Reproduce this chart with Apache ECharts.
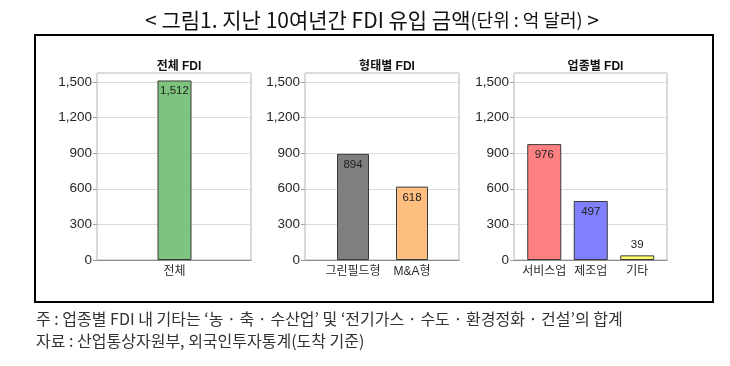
<!DOCTYPE html>
<html>
<head>
<meta charset="utf-8">
<script src="https://cdn.jsdelivr.net/npm/echarts@6/dist/echarts.min.js"></script>
<style>html,body{margin:0;padding:0;background:#fff}#c{width:730px;height:366px}</style>
</head>
<body>
<div id="c"></div>
<script>
// ---- data ----
const panelTitles = ['전체 FDI', '형태별 FDI', '업종별 FDI'];
const cats1 = ['전체'];
const vals1 = [1512];
const cats2 = ['그린필드형', 'M&A형'];
const vals2 = [894, 618];
const cats3 = ['서비스업', '제조업', '기타'];
const vals3 = [976, 497, 39];
const yMin = 0, yMax = 1575, yStep = 300;
const mainTitle = '< 그림1. 지난 10여년간 FDI 유입 금액';
const unitText = '(단위 : 억 달러)';
const note1 = '주 : 업종별 FDI 내 기타는 ‘농 · 축 · 수산업’ 및 ‘전기가스 · 수도 · 환경정화 · 건설’의 합계';
const note2 = '자료 : 산업통상자원부, 외국인투자통계(도착 기준)';

// ---- styling / layout ----
const FONT = '"Liberation Sans", Arial, "Noto Sans CJK KR", sans-serif';
const colors1 = ['#7ec47e'];
const colors2 = ['#7f7f7f', '#ffbf80'];
const colors3 = ['#ff8080', '#8080ff', '#ffff66'];
const frames = [
  {left: 97, width: 154},
  {left: 305, width: 154},
  {left: 514, width: 153}
];
const barGrids = [
  {left: 97, width: 155},
  {left: 323.5, width: 118},
  {left: 521, width: 139.5}
];
const barWidths = [34, 32, 34];
const TOP = 73, HEIGHT = 187;

const panels = [
  {cats: cats1, vals: vals1, colors: colors1},
  {cats: cats2, vals: vals2, colors: colors2},
  {cats: cats3, vals: vals3, colors: colors3}
];

const grid = [], xAxis = [], yAxis = [], series = [], titles = [];
panels.forEach((p, i) => {
  grid.push({left: frames[i].left, top: TOP, width: frames[i].width, height: HEIGHT,
    show: true, borderColor: '#b4b4b4', borderWidth: 1, backgroundColor: '#fff'});
  grid.push({left: barGrids[i].left, top: TOP, width: barGrids[i].width, height: HEIGHT});
  const fg = i * 2, bg = i * 2 + 1;
  xAxis.push({type: 'category', gridIndex: fg, data: [''],
    axisLine: {show: true, lineStyle: {color: '#8c8c8c', width: 1}},
    axisTick: {show: false}, axisLabel: {show: false}});
  xAxis.push({type: 'category', gridIndex: bg, data: p.cats,
    axisLine: {show: false}, axisTick: {show: false},
    axisLabel: {interval: 0, color: '#2a2a2a', fontSize: 12, fontFamily: FONT, margin: 6}});
  yAxis.push({type: 'value', gridIndex: fg, min: yMin, max: yMax, interval: yStep,
    axisLine: {show: false},
    axisTick: {show: true, length: 4, lineStyle: {color: '#a0a0a0'}},
    splitLine: {show: true, lineStyle: {color: '#dcdcdc'}},
    axisLabel: {color: '#262626', fontSize: 13.5, fontFamily: FONT, margin: 5, showMaxLabel: false,
      formatter: v => v.toLocaleString('en-US')}});
  yAxis.push({type: 'value', gridIndex: bg, min: yMin, max: yMax, interval: yStep,
    show: false, splitLine: {show: false}});
  series.push({type: 'bar', xAxisIndex: bg, yAxisIndex: bg, barWidth: barWidths[i],
    data: p.vals.map((v, k) => ({value: v,
      itemStyle: {color: p.colors[k], borderColor: '#3a3a3a', borderWidth: 1},
      label: {position: v < 150 ? 'top' : 'insideTop', distance: 5}})),
    label: {show: true, color: '#222', fontSize: 11.5, fontFamily: FONT,
      formatter: d => d.value.toLocaleString('en-US')}});
  titles.push({text: panelTitles[i], left: frames[i].left + frames[i].width / 2, top: 56,
    textAlign: 'center',
    textStyle: {fontSize: 12, fontWeight: 'bold', color: '#111', fontFamily: FONT}});
});

titles.push({text: '{a|' + mainTitle + '}{b|' + unitText + '}{a| >}', left: 367, top: 5, textAlign: 'center',
  textStyle: {fontWeight: 'normal', rich: {
    a: {fontSize: 21, fontWeight: 'normal', color: '#111', fontFamily: '"Noto Sans CJK KR", sans-serif'},
    b: {fontSize: 18, fontWeight: 'normal', color: '#111', fontFamily: '"Noto Sans CJK KR", sans-serif'}
  }}});

const chart = echarts.init(document.getElementById('c'), null, {renderer: 'canvas'});
chart.setOption({
  animation: false,
  title: titles,
  grid, xAxis, yAxis, series,
  graphic: [
    {type: 'rect', shape: {x: 35, y: 35, width: 678, height: 267}, z: -1,
      style: {fill: 'none', stroke: '#000', lineWidth: 2}},
    {type: 'text', x: 36, y: 319, style: {text: note1, font: '16px "Noto Sans CJK KR", sans-serif',
      fill: '#333', textVerticalAlign: 'middle'}},
    {type: 'text', x: 36, y: 341, style: {text: note2, font: '16px "Noto Sans CJK KR", sans-serif',
      fill: '#333', textVerticalAlign: 'middle'}}
  ]
});
</script>
</body>
</html>
